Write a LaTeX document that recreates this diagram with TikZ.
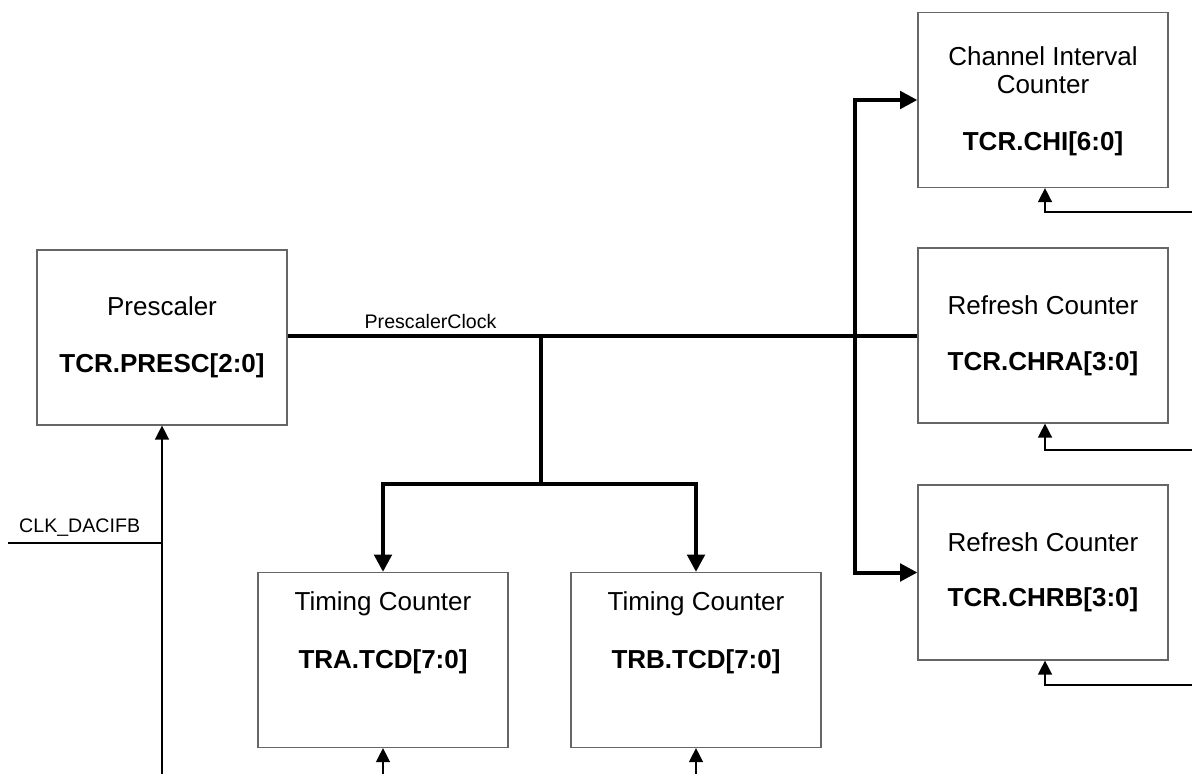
\documentclass[tikz,border=0pt]{standalone}
\usepackage{fontspec}
\setmainfont{Liberation Sans}
\usetikzlibrary{arrows.meta}

\begin{document}
\begin{tikzpicture}[x=0.75pt, y=-0.75pt,
  blk/.style={draw=gray!80!black, line width=0.9pt, minimum width=187.5pt,
              minimum height=131.25pt, inner sep=0pt},
  ttl/.style={font=\fontsize{19.5}{21}\selectfont, align=center},
  reg/.style={font=\fontsize{19.5}{23}\selectfont\bfseries},
  bus/.style={line width=3pt, -{Triangle[length=13pt, width=13pt]}},
  busl/.style={line width=3pt},
  sig/.style={line width=1.1pt, -{Triangle[length=10.5pt, width=10.5pt]}},
  sigl/.style={line width=1.1pt},
  lbl/.style={font=\fontsize{14.7}{17}\selectfont}]
  \useasboundingbox (0,0) rectangle (1192,774);

  % Blocks
  \node[blk] (presc) at (162,337.5) {};
  \node[blk] (chi)   at (1043,100) {};
  \node[blk] (chra)  at (1043,335.5) {};
  \node[blk] (chrb)  at (1043,572.5) {};
  \node[blk] (tra)   at (383,660) {};
  \node[blk] (trb)   at (696,660) {};

  % Block texts
  \node[ttl] at (162,306) {Prescaler};
  \node[reg] at (162,366) {TCR.PRESC[2:0]};
  \node[ttl] at (1043,70) {Channel Interval\\Counter};
  \node[reg] at (1043,144) {TCR.CHI[6:0]};
  \node[ttl] at (1043,305) {Refresh Counter};
  \node[reg] at (1043,364) {TCR.CHRA[3:0]};
  \node[ttl] at (1043,542) {Refresh Counter};
  \node[reg] at (1043,600) {TCR.CHRB[3:0]};
  \node[ttl] at (383,604) {Timing Counter};
  \node[reg] at (383,662) {TRA.TCD[7:0]};
  \node[ttl] at (696,604) {Timing Counter};
  \node[reg] at (696,662) {TRB.TCD[7:0]};

  % Prescaler clock bus
  \coordinate (jt) at (541,336);
  \coordinate (jb) at (541,484);
  \coordinate (jr) at (855,336);
  \draw[busl] (presc.east |- jt) -- (chra.west |- jt)
    node[lbl, pos=0.227, above, yshift=1pt] {PrescalerClock};
  \draw[busl] (jt) -- (jb);
  \draw[bus] (jb) -| (tra.north);
  \draw[bus] (jb) -| (trb.north);
  \draw[bus] (jr) |- (chi.west);
  \draw[bus] (jr) |- (chrb.west);

  % Inputs
  \coordinate (clkin) at (162,774);
  \coordinate (clk) at (8,543);
  \coordinate (train) at (tra.south |- clkin);
  \coordinate (trbin) at (trb.south |- clkin);
  \draw[sig] (clkin) -- (presc.south);
  \draw[sigl] (clk) -- (clk -| presc.south)
    node[lbl, midway, above, xshift=-4pt, yshift=1pt] {CLK\_DACIFB};
  \draw[sig] (train) -- (tra.south);
  \draw[sig] (trbin) -- (trb.south);

  % Feedback into the right counters
  \coordinate (fbchi) at (1192,212);
  \coordinate (fbchra) at (1192,450);
  \coordinate (fbchrb) at (1192,685);
  \draw[sig] (fbchi) -| ([xshift=1.5pt]chi.south);
  \draw[sig] (fbchra) -| ([xshift=1.5pt]chra.south);
  \draw[sig] (fbchrb) -| ([xshift=1.5pt]chrb.south);
\end{tikzpicture}
\end{document}
